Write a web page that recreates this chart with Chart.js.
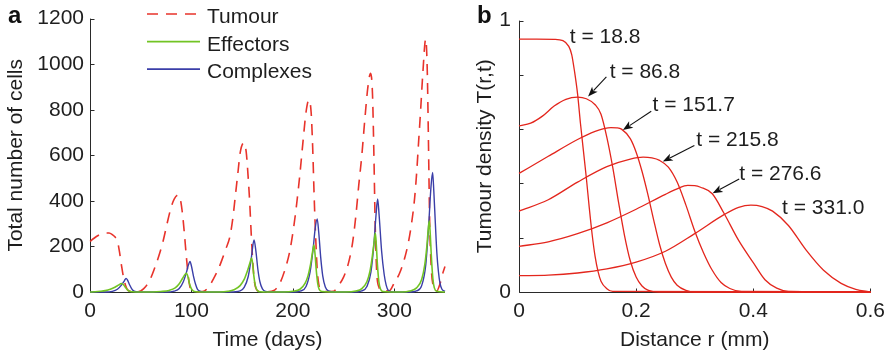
<!DOCTYPE html>
<html>
<head>
<meta charset="utf-8">
<script src="https://cdn.jsdelivr.net/npm/chart.js@4.4.1/dist/chart.umd.min.js"></script>
<style>
  html, body { margin: 0; padding: 0; background: #fff; }
  #wrap { position: relative; width: 892px; height: 356px; }
  canvas { position: absolute; top: 0; }
  #chartA { left: 0; }
  #chartB { left: 446px; }
</style>
</head>
<body>
<div id="wrap">
  <canvas id="chartA" width="446" height="356"></canvas>
  <canvas id="chartB" width="446" height="356"></canvas>
</div>
<script>
// ---- panel a: cell numbers over time ----
const seriesNames = ['Tumour', 'Effectors', 'Complexes'];

const tumourDays = [0, 4, 8, 12, 16, 18.8, 22, 25, 27, 29, 31, 33, 35, 37, 40, 45, 50, 53, 56, 60, 64, 68, 72, 76, 80, 83, 86.8, 89, 91, 93, 95, 97, 99, 102, 108, 113, 118, 122, 126, 130, 134, 138, 141, 143, 146, 148, 151.7, 154, 156, 157.5, 159, 160.5, 162, 164, 167, 175, 182, 187, 192, 197, 201, 204, 207, 210, 213, 215.8, 218, 219.5, 221, 222.5, 224, 225.5, 228, 232, 240, 245, 250, 255, 259, 262, 265, 268, 271, 274, 276.6, 278.5, 280, 281, 282.6, 285, 288, 295, 300, 305, 310, 314, 317, 320, 322, 324, 326, 328, 331, 332.5, 333.5, 334.3, 335, 336.6, 338, 340, 342, 345, 348, 350];
const tumourCells = [222, 236, 248, 256, 259, 259, 252, 240, 225, 178, 118, 65, 30, 10, 3, 1, 5, 15, 30, 62, 108, 160, 222, 300, 372, 408, 425, 408, 350, 260, 155, 65, 15, 3, 1, 5, 28, 60, 95, 140, 190, 245, 330, 410, 530, 610, 655, 615, 500, 390, 250, 130, 50, 12, 3, 1, 8, 37, 95, 180, 290, 396, 520, 660, 790, 843, 790, 640, 420, 240, 100, 35, 8, 2, 3, 29, 65, 130, 220, 330, 470, 600, 760, 900, 960, 870, 580, 330, 95, 20, 5, 5, 40, 80, 145, 220, 300, 410, 520, 660, 800, 950, 1110, 975, 715, 470, 280, 95, 35, 10, 5, 35, 85, 112];

const effectorDays = [0, 5, 10, 15, 20, 25, 28, 31, 33, 35, 37, 39, 42, 48, 62, 70, 78, 84, 88, 91, 93, 95, 96.5, 98, 100, 102, 105, 112, 128, 136, 142, 148, 152, 155, 157.5, 159.4, 160.5, 161.5, 163, 165, 168, 175, 192, 200, 207, 212, 215, 217.5, 219.5, 220.8, 222, 223, 224.5, 226, 229, 236, 252, 262, 268, 273, 276, 278, 280, 281.3, 282.3, 283.3, 284.8, 286.5, 289, 296, 308, 315, 322, 327, 330, 332, 333.5, 334.5, 335.5, 336.5, 338, 339.5, 342, 350];
const effectorCells = [0, 1, 3, 6, 12, 22, 30, 37, 32, 20, 9, 3, 1, 0, 0, 2, 7, 18, 36, 58, 73, 82, 68, 38, 14, 4, 1, 0, 0, 3, 10, 28, 55, 90, 125, 149, 118, 72, 28, 7, 1, 0, 0, 3, 12, 38, 72, 122, 178, 206, 160, 100, 38, 11, 2, 0, 0, 4, 15, 45, 90, 145, 215, 259, 205, 125, 45, 12, 2, 0, 0, 4, 18, 55, 118, 195, 275, 313, 250, 160, 60, 18, 3, 0];

const complexDays = [0, 15, 22, 27, 31, 34, 35.5, 37, 39, 41, 43, 46, 52, 75, 83, 88, 92, 95, 97, 98.6, 100, 102, 104, 106, 109, 115, 138, 148, 152, 156, 159, 161.7, 163.5, 165.5, 167.5, 170, 173, 180, 200, 208, 213, 217, 220, 222, 224, 225.5, 227.5, 229.5, 232, 235, 242, 260, 268, 273, 277, 280, 282, 283.6, 285, 287.5, 290, 292, 294, 300, 315, 322, 327, 331, 334, 336, 337.8, 339, 340.5, 342, 343.5, 345, 347, 350];
const complexCells = [0, 0, 3, 12, 30, 50, 60, 52, 32, 15, 5, 1, 0, 0, 4, 15, 45, 85, 118, 134, 114, 70, 35, 12, 3, 0, 0, 5, 20, 68, 148, 228, 182, 100, 45, 14, 3, 0, 0, 5, 24, 88, 190, 278, 321, 262, 150, 70, 22, 5, 0, 0, 5, 24, 88, 215, 338, 408, 340, 180, 78, 30, 8, 0, 0, 5, 28, 118, 300, 450, 525, 440, 300, 170, 90, 40, 12, 3];

const xTicksA = [0, 100, 200, 300];
const yTicksA = [0, 200, 400, 600, 800, 1000, 1200];

// ---- panel b: tumour density profiles ----
const profileTimes = [18.8, 86.8, 151.7, 215.8, 276.6, 331.0];

const r_18_8 = [0, 0.03, 0.06, 0.075, 0.085, 0.09, 0.095, 0.1, 0.105, 0.11, 0.115, 0.12, 0.125, 0.13, 0.135, 0.14, 0.15, 0.16, 0.6];
const T_18_8 = [0.932, 0.932, 0.931, 0.926, 0.905, 0.875, 0.81, 0.73, 0.62, 0.52, 0.42, 0.31, 0.21, 0.13, 0.075, 0.04, 0.012, 0.002, 0];

const r_86_8 = [0, 0.02, 0.04, 0.06, 0.08, 0.1, 0.115, 0.13, 0.14, 0.15, 0.16, 0.17, 0.18, 0.19, 0.2, 0.21, 0.22, 0.24, 0.6];
const T_86_8 = [0.612, 0.622, 0.648, 0.685, 0.71, 0.718, 0.712, 0.69, 0.655, 0.57, 0.46, 0.33, 0.21, 0.115, 0.055, 0.022, 0.007, 0, 0];

const r_151_7 = [0, 0.05, 0.1, 0.13, 0.145, 0.157, 0.167, 0.175, 0.19, 0.2, 0.21, 0.22, 0.23, 0.24, 0.25, 0.26, 0.27, 0.285, 0.3, 0.6];
const T_151_7 = [0.437, 0.5, 0.562, 0.592, 0.602, 0.606, 0.605, 0.6, 0.565, 0.515, 0.445, 0.36, 0.265, 0.175, 0.105, 0.055, 0.025, 0.006, 0, 0];

const r_215_8 = [0, 0.05, 0.1, 0.15, 0.19, 0.212, 0.227, 0.24, 0.255, 0.27, 0.285, 0.3, 0.315, 0.33, 0.345, 0.36, 0.38, 0.6];
const T_215_8 = [0.298, 0.34, 0.405, 0.462, 0.49, 0.497, 0.494, 0.485, 0.46, 0.405, 0.32, 0.225, 0.145, 0.08, 0.035, 0.013, 0.002, 0];

const r_276_6 = [0, 0.05, 0.1, 0.15, 0.2, 0.25, 0.27, 0.288, 0.3, 0.31, 0.33, 0.35, 0.375, 0.4, 0.42, 0.44, 0.46, 0.6];
const T_276_6 = [0.168, 0.185, 0.215, 0.255, 0.305, 0.36, 0.38, 0.393, 0.392, 0.386, 0.362, 0.29, 0.19, 0.108, 0.045, 0.014, 0.002, 0];

const r_331_0 = [0, 0.05, 0.1, 0.15, 0.2, 0.25, 0.3, 0.35, 0.375, 0.396, 0.415, 0.433, 0.46, 0.49, 0.52, 0.55, 0.575, 0.6];
const T_331_0 = [0.06, 0.062, 0.07, 0.085, 0.11, 0.15, 0.215, 0.285, 0.312, 0.32, 0.315, 0.298, 0.245, 0.155, 0.08, 0.032, 0.01, 0];

const xTicksB = [0, 0.2, 0.4, 0.6];
const yTicksB = [0, 0.2, 0.4, 0.6, 0.8, 1];
const yTickLabelsB = ['0', '', '', '', '', '1'];

// ---- styling ----
const FONT_FAMILY = '"Liberation Sans", Arial, Helvetica, sans-serif';
const FONT_SIZE = 21;
const TEXT = '#1e1e1e';
const AXIS = '#2a2a2a';
const RED = '#e8332b';
const GREEN = '#72c424';
const BLUE = '#3a3ea8';
const CURVE_RED = '#e3261d';
const TUMOUR_DASH = [11, 8];

Chart.defaults.font.family = FONT_FAMILY;
Chart.defaults.font.size = FONT_SIZE;
Chart.defaults.color = TEXT;

const pairs = (xs, ys) => xs.map((x, i) => ({ x: x, y: ys[i] }));

// axis lines plus inward-pointing tick marks (drawn under the data)
const framePlugin = {
  id: 'frame',
  beforeDatasetsDraw(chart, args, o) {
    const { ctx, chartArea: a, scales: { x, y } } = chart;
    const L = Math.round(a.left) + 0.5, B = Math.round(a.bottom) + 0.5;
    ctx.save();
    ctx.strokeStyle = AXIS;
    ctx.lineWidth = 1;
    ctx.beginPath();
    ctx.moveTo(L, a.top);
    ctx.lineTo(L, B);
    ctx.lineTo(a.right, B);
    o.xTicks.forEach(v => {
      const p = Math.round(x.getPixelForValue(v)) + 0.5;
      ctx.moveTo(p, B); ctx.lineTo(p, B - 4);
    });
    o.yTicks.forEach(v => {
      const p = Math.round(y.getPixelForValue(v)) + 0.5;
      ctx.moveTo(L, p); ctx.lineTo(L + 4, p);
    });
    ctx.stroke();
    ctx.restore();
  }
};

// panel letter + legend / annotations (drawn on top)
const overlayPlugin = {
  id: 'overlay',
  afterDraw(chart, args, o) {
    const { ctx, scales: { x, y } } = chart;
    ctx.save();
    ctx.fillStyle = '#111';
    ctx.font = 'bold 24px ' + FONT_FAMILY;
    ctx.textBaseline = 'alphabetic';
    ctx.fillText(o.letter.text, o.letter.x, o.letter.y);

    ctx.font = FONT_SIZE + 'px ' + FONT_FAMILY;
    ctx.fillStyle = TEXT;
    (o.legend || []).forEach((it, i) => {
      const ly = 14 + i * 27.6;
      ctx.save();
      ctx.strokeStyle = it.color;
      ctx.lineWidth = it.width;
      ctx.setLineDash(it.dash || []);
      ctx.beginPath();
      ctx.moveTo(147, ly); ctx.lineTo(200, ly);
      ctx.stroke();
      ctx.restore();
      ctx.fillText(it.text, 207, 23.3 + i * 27.5);
    });

    (o.notes || []).forEach(n => {
      ctx.fillStyle = TEXT;
      ctx.fillText(n.text, x.getPixelForValue(n.r), y.getPixelForValue(n.T));
      if (!n.arrow) return;
      const [r0, t0, r1, t1] = n.arrow;
      const x0 = x.getPixelForValue(r0), y0 = y.getPixelForValue(t0);
      const x1 = x.getPixelForValue(r1), y1 = y.getPixelForValue(t1);
      const ang = Math.atan2(y1 - y0, x1 - x0);
      const hl = 10, hw = 3.8;
      ctx.strokeStyle = '#111';
      ctx.fillStyle = '#111';
      ctx.lineWidth = 1.1;
      ctx.beginPath();
      ctx.moveTo(x0, y0);
      ctx.lineTo(x1 - Math.cos(ang) * hl * 0.8, y1 - Math.sin(ang) * hl * 0.8);
      ctx.stroke();
      ctx.beginPath();
      ctx.moveTo(x1, y1);
      ctx.lineTo(x1 - Math.cos(ang) * hl + Math.sin(ang) * hw, y1 - Math.sin(ang) * hl - Math.cos(ang) * hw);
      ctx.lineTo(x1 - Math.cos(ang) * hl * 0.75, y1 - Math.sin(ang) * hl * 0.75);
      ctx.lineTo(x1 - Math.cos(ang) * hl - Math.sin(ang) * hw, y1 - Math.sin(ang) * hl + Math.cos(ang) * hw);
      ctx.closePath();
      ctx.fill();
    });
    ctx.restore();
  }
};

const fixedTicks = list => scale => { scale.ticks = list.map(v => ({ value: v })); };

// ---------- chart a ----------
new Chart(document.getElementById('chartA'), {
  type: 'line',
  data: {
    datasets: [
      { label: seriesNames[1], data: pairs(effectorDays, effectorCells), borderColor: GREEN, borderWidth: 1.6 },
      { label: seriesNames[2], data: pairs(complexDays, complexCells), borderColor: BLUE, borderWidth: 1.4 },
      { label: seriesNames[0], data: pairs(tumourDays, tumourCells), borderColor: RED, borderWidth: 1.6, borderDash: TUMOUR_DASH }
    ]
  },
  options: {
    responsive: false,
    animation: false,
    layout: { padding: { top: 14, right: 1, bottom: 0, left: 0 } },
    elements: {
      point: { radius: 0 },
      line: { cubicInterpolationMode: 'monotone', fill: false }
    },
    datasets: { line: { clip: 4 } },
    plugins: {
      legend: { display: false },
      tooltip: { enabled: false },
      frame: { xTicks: xTicksA, yTicks: yTicksA },
      overlay: {
        letter: { text: 'a', x: 8, y: 22.7 },
        legend: [
          { text: seriesNames[0], color: RED, width: 1.6, dash: TUMOUR_DASH },
          { text: seriesNames[1], color: GREEN, width: 1.8 },
          { text: seriesNames[2], color: BLUE, width: 1.8 }
        ]
      }
    },
    scales: {
      x: {
        type: 'linear', min: 0, max: 350,
        afterBuildTicks: fixedTicks(xTicksA),
        afterFit: s => { s.height = 64; },
        grid: { display: false, drawTicks: false },
        border: { display: false },
        ticks: { padding: 7, maxRotation: 0, autoSkip: false, callback: v => String(v) },
        title: { display: true, text: 'Time (days)', padding: { top: 0, bottom: 3.4 } }
      },
      y: {
        type: 'linear', min: 0, max: 1200,
        afterBuildTicks: fixedTicks(yTicksA),
        afterFit: s => { s.width = 90; },
        grid: { display: false, drawTicks: false },
        border: { display: false },
        ticks: { padding: 6, autoSkip: false, callback: v => String(v) },
        title: { display: true, text: 'Total number of cells', padding: { top: 3.4, bottom: 0 } }
      }
    }
  },
  plugins: [framePlugin, overlayPlugin]
});

// ---------- chart b ----------
const profiles = [
  [r_18_8, T_18_8], [r_86_8, T_86_8], [r_151_7, T_151_7],
  [r_215_8, T_215_8], [r_276_6, T_276_6], [r_331_0, T_331_0]
];

new Chart(document.getElementById('chartB'), {
  type: 'line',
  data: {
    datasets: profiles.map((p, i) => ({
      label: 't = ' + profileTimes[i].toFixed(1),
      data: pairs(p[0], p[1]),
      borderColor: CURVE_RED,
      borderWidth: 1.3
    }))
  },
  options: {
    responsive: false,
    animation: false,
    layout: { padding: { top: 14, right: 20, bottom: 0, left: 0 } },
    elements: {
      point: { radius: 0 },
      line: { cubicInterpolationMode: 'monotone', fill: false }
    },
    datasets: { line: { clip: 4 } },
    plugins: {
      legend: { display: false },
      tooltip: { enabled: false },
      frame: { xTicks: xTicksB, yTicks: yTicksB },
      overlay: {
        letter: { text: 'b', x: 31, y: 22.7 },
        notes: [
          { text: 't = ' + profileTimes[0].toFixed(1), r: 0.0868, T: 0.918 },
          { text: 't = ' + profileTimes[1].toFixed(1), r: 0.1548, T: 0.7886, arrow: [0.1492, 0.7925, 0.1179, 0.7202] },
          { text: 't = ' + profileTimes[2].toFixed(1), r: 0.228, T: 0.666, arrow: [0.2258, 0.6662, 0.1774, 0.5967] },
          { text: 't = ' + profileTimes[3].toFixed(1), r: 0.3028, T: 0.5365, arrow: [0.2994, 0.5402, 0.2455, 0.4804] },
          { text: 't = ' + profileTimes[4].toFixed(1), r: 0.376, T: 0.412, arrow: [0.376, 0.4166, 0.3306, 0.3637] },
          { text: 't = ' + profileTimes[5].toFixed(1), r: 0.4491, T: 0.288 }
        ]
      }
    },
    scales: {
      x: {
        type: 'linear', min: 0, max: 0.6,
        afterBuildTicks: fixedTicks(xTicksB),
        afterFit: s => { s.height = 64; },
        grid: { display: false, drawTicks: false },
        border: { display: false },
        ticks: { padding: 7, maxRotation: 0, autoSkip: false },
        title: { display: true, text: 'Distance r (mm)', padding: { top: 0, bottom: 3.4 } }
      },
      y: {
        type: 'linear', min: 0, max: 1,
        afterBuildTicks: fixedTicks(yTicksB),
        afterFit: s => { s.width = 73; },
        grid: { display: false, drawTicks: false },
        border: { display: false },
        ticks: {
          padding: 8, autoSkip: false,
          callback: v => yTickLabelsB[yTicksB.indexOf(v)]
        },
        title: { display: true, text: 'Tumour density T(r,t)', padding: { top: 26.4, bottom: 0 } }
      }
    }
  },
  plugins: [framePlugin, overlayPlugin]
});
</script>
</body>
</html>
